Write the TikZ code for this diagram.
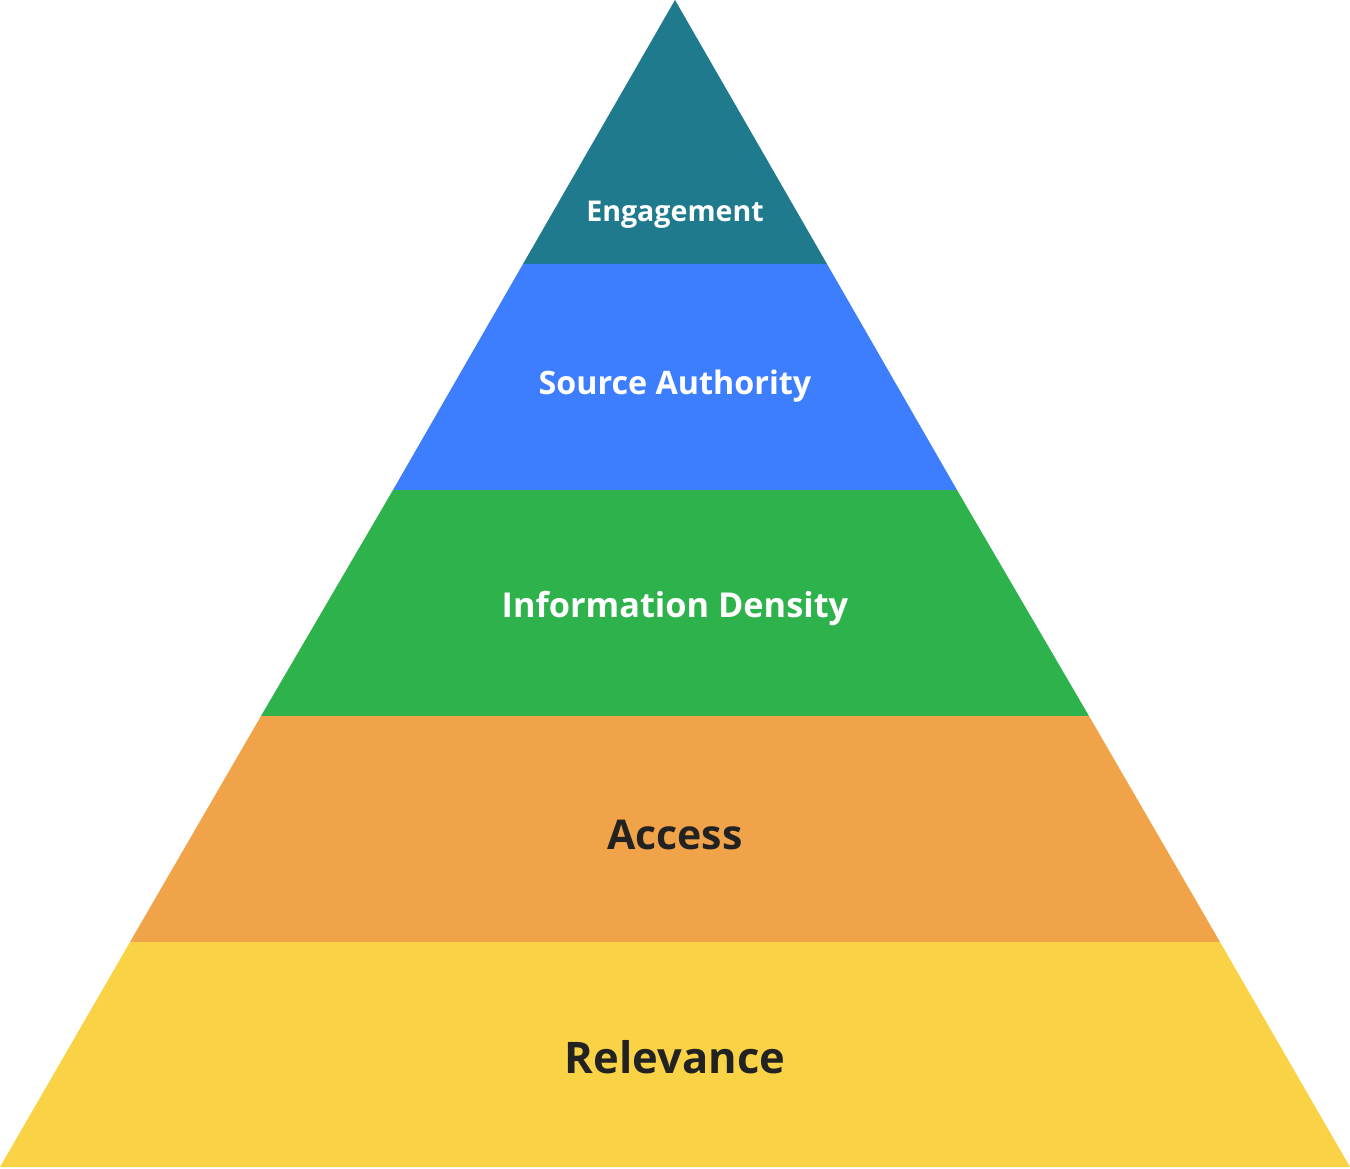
\documentclass[tikz,border=0pt]{standalone}
\usepackage{fontspec}
\setmainfont{Open Sans}
\definecolor{cEng}{HTML}{1E7A8C}
\definecolor{cSrc}{HTML}{3D7EFF}
\definecolor{cInf}{HTML}{2EB24C}
\definecolor{cAcc}{HTML}{F0A348}
\definecolor{cRel}{HTML}{FAD246}
\definecolor{cDark}{HTML}{222222}
\begin{document}
\begin{tikzpicture}[x=1pt,y=-1pt,
  lbl/.style={inner sep=0pt, anchor=center}]
\useasboundingbox (0,0) rectangle (1350,1169);
% apex (675,0), base at y=1167, half width 675
\fill[cEng] (675,0) -- (827,264) -- (523,264) -- cycle;
\fill[cSrc] (523,264) -- (827,264) -- (957,490) -- (393,490) -- cycle;
\fill[cInf] (393,490) -- (957,490) -- (1089,716) -- (261,716) -- cycle;
\fill[cAcc] (261,716) -- (1089,716) -- (1220,942) -- (130,942) -- cycle;
\fill[cRel] (130,942) -- (1220,942) -- (1350,1167) -- (0,1167) -- cycle;
\node[lbl, text=white, font=\fontsize{28.6}{34}\selectfont\bfseries] (eng) at (675,215) {Engagement};
\node[lbl, text=white, font=\fontsize{32.3}{38}\selectfont\bfseries] (src) at (675,386) {Source Authority};
\node[lbl, text=white, font=\fontsize{34.3}{40}\selectfont\bfseries] (inf) at (675,608) {Information Density};
\node[lbl, text=cDark, font=\fontsize{41}{48}\selectfont\bfseries] (acc) at (675,835) {Access};
\node[lbl, text=cDark, font=\fontsize{43.5}{52}\selectfont\bfseries] (rel) at (675,1057) {Relevance};
\end{tikzpicture}
\end{document}
